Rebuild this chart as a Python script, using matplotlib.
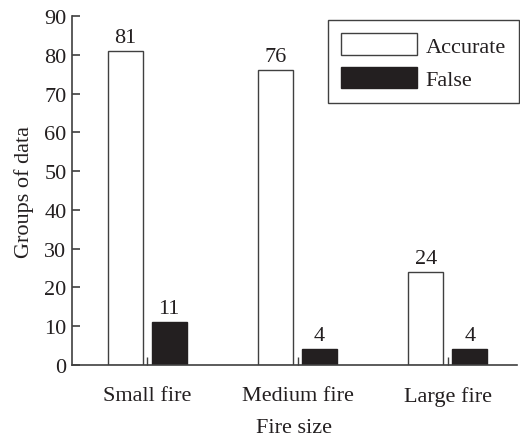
import numpy as np
import matplotlib
matplotlib.use("Agg")
import matplotlib.pyplot as plt

categories = ["Small fire", "Medium fire", "Large fire"]
accurate = [81, 76, 24]
false_vals = [11, 4, 4]
series_names = ["Accurate", "False"]
y_ticks = [0, 10, 20, 30, 40, 50, 60, 70, 80, 90]

plt.rcParams["font.family"] = ["Liberation Serif", "DejaVu Serif"]
plt.rcParams["font.size"] = 16
ink = "#231f20"
line = "#404040"

fig = plt.figure(figsize=(5.2, 4.39), dpi=100)
ax = fig.add_axes([72 / 520, 73 / 439, 445 / 520, 349 / 439])

x = np.arange(len(categories))
width = 0.233
off = 0.146
b1 = ax.bar(x - off, accurate, width, color="white", edgecolor=line, linewidth=1.0,
            label=series_names[0])
b2 = ax.bar(x + off, false_vals, width, color=ink, edgecolor=ink, linewidth=1.0,
            label=series_names[1])
for bars in (b1, b2):
    ax.bar_label(bars, padding=3, color=ink, fontsize=16)

ax.set_xlim(-0.5, 2.46)
ax.set_ylim(0, 90)
ax.set_yticks(y_ticks)
ax.set_xticks(x)
ax.set_xticklabels(categories)

for s in ("top", "right"):
    ax.spines[s].set_visible(False)
for s in ("left", "bottom"):
    ax.spines[s].set_color(line)
    ax.spines[s].set_linewidth(1.2)

ax.tick_params(axis="y", direction="in", length=6, width=1.2, color=line,
               labelcolor=ink, pad=4)
ax.tick_params(axis="x", direction="in", length=6, width=1.0, color=line,
               labelcolor=ink, pad=15)

ax.set_xlabel("Fire size", color=ink, labelpad=9)
ax.set_ylabel("Groups of data", color=ink, labelpad=7)

leg = ax.legend(loc="upper right", bbox_to_anchor=(519 / 520, 418 / 439),
                bbox_transform=fig.transFigure, fancybox=False, framealpha=1,
                edgecolor=line, handlelength=3.4, handleheight=1.1,
                handletextpad=0.4, borderpad=0.6, labelspacing=0.45,
                borderaxespad=0)
leg.get_frame().set_linewidth(1.0)
for t in leg.get_texts():
    t.set_color(ink)

fig.savefig("out.png", dpi=100)
